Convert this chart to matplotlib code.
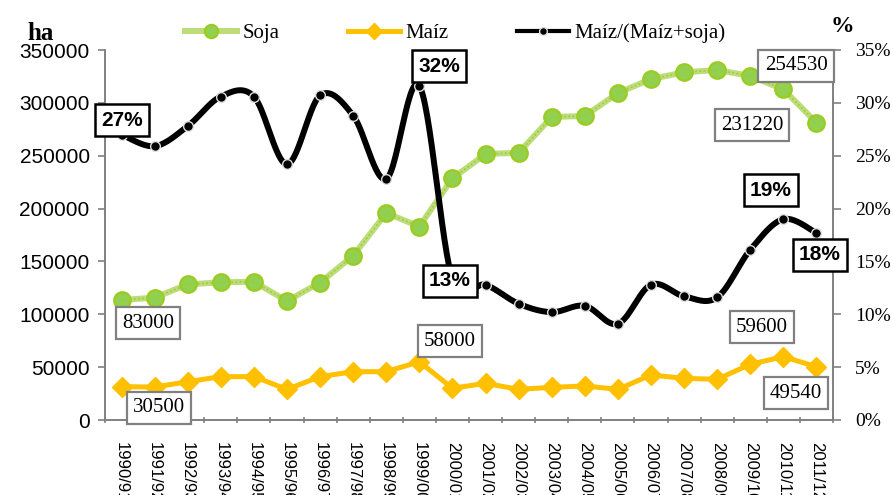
import matplotlib
matplotlib.use("Agg")
import matplotlib.pyplot as plt
import numpy as np

W, H = 893, 495

campanas = ["1990/91", "1991/92", "1992/93", "1993/94", "1994/95", "1995/96",
            "1996/97", "1997/98", "1998/99", "1999/00", "2000/01", "2001/02",
            "2002/03", "2003/04", "2004/05", "2005/06", "2006/07", "2007/08",
            "2008/09", "2009/10", "2010/11", "2011/12"]
soja = [113500, 115700, 128300, 130200, 130800, 112600, 130000, 155400,
        195800, 183000, 228600, 251600, 252800, 286600, 287600, 309300,
        322500, 328900, 331100, 325400, 312800, 281200]
maiz = [31500, 31200, 36200, 41000, 41000, 29000, 41000, 45700, 45700,
        55100, 30000, 34700, 29000, 30900, 32200, 29000, 42600, 39400,
        38500, 52700, 59900, 50400]
ratio = [27.0, 25.9, 27.8, 30.6, 30.6, 24.2, 30.7, 28.8, 22.8, 31.6, 13.3,
         12.8, 11.0, 10.2, 10.8, 9.1, 12.8, 11.7, 11.6, 16.1, 19.0, 17.7]

# etiquetas (texto, x px, y px)
etiquetas_ha = [("83000", 148, 323), ("30500", 159, 408), ("58000", 450, 341),
                ("254530", 796, 66), ("231220", 752, 125), ("59600", 762, 327),
                ("49540", 796, 393)]
etiquetas_pct = [("27%", 122, 120), ("32%", 439, 66), ("13%", 450, 281),
                 ("19%", 771, 190), ("18%", 820, 255)]


def suavizar(x, y, sy, n=30):
    # curva suavizada tipo Excel (Catmull-Rom en escala de pantalla)
    p = np.column_stack([x, np.asarray(y) * sy])
    p = np.vstack([p[0], p, p[-1]])
    out = []
    t = np.linspace(0, 1, n)[:, None]
    for i in range(1, len(p) - 2):
        p0, p1, p2, p3 = p[i - 1], p[i], p[i + 1], p[i + 2]
        c1 = p1 + (p2 - p0) / 6
        c2 = p2 - (p3 - p1) / 6
        seg = ((1 - t) ** 3) * p1 + 3 * ((1 - t) ** 2) * t * c1 \
            + 3 * (1 - t) * t ** 2 * c2 + t ** 3 * p2
        out.append(seg)
    out = np.vstack(out)
    return out[:, 0], out[:, 1] / sy


serif = ["Liberation Serif", "DejaVu Serif"]
sans = ["Liberation Sans", "DejaVu Sans"]

fig = plt.figure(figsize=(W / 100, H / 100), dpi=100)
ax = fig.add_axes([105 / W, 1 - 420 / H, 728 / W, 370 / H])
ax2 = ax.twinx()

x = np.arange(len(campanas))

l1, = ax.plot(x, soja, color="#BCDD7A", lw=4.3, marker="o", ms=12,
              mfc="#92D050", mec="#9CCB1E", mew=1.5, zorder=3, label="Soja")
ax.plot(x, soja, color="#9CCB3B", lw=1.2, ls=(0, (1, 1.5)), zorder=3)
l2, = ax.plot(x, maiz, color="#FFC000", lw=3.6, marker="D", ms=10,
              mfc="#FFC000", mec="#FFC000", zorder=3, label="Maíz")

xs, ys = suavizar(x, ratio, 10.57 / 33.09)
ax2.plot(xs, ys, color="black", lw=4.3, solid_capstyle="round", zorder=3)
ax2.plot(x, ratio, ls="none", marker="o", ms=7, mfc="black", mec="#DDDDDD",
         mew=1, zorder=4)
l3, = ax2.plot([], [], color="black", lw=3, marker="o", ms=7, mfc="black",
               mec="#DDDDDD", label="Maíz/(Maíz+soja)")

ax.set_xlim(-0.5, len(campanas) - 0.5)
ax.set_ylim(0, 350000)
ax2.set_ylim(0, 35)

ax.set_yticks(np.arange(0, 350001, 50000))
ax.set_yticklabels([str(v) for v in range(0, 350001, 50000)],
                   family=sans, fontsize=15)
ax2.set_yticks(np.arange(0, 36, 5))
ax2.set_yticklabels([f"{v}%" for v in range(0, 36, 5)], family=serif,
                    fontsize=14)

ax.set_xticks(np.arange(-0.5, len(campanas), 1))
ax.set_xticklabels([])
ax.set_xticks(x, minor=True)
ax.set_xticklabels(campanas, minor=True, rotation=-90, family=sans,
                   fontsize=12, va="top", ha="center")
ax.tick_params(axis="x", which="minor", length=0, pad=16)
ax.tick_params(axis="x", which="major", length=5, color="#808080",
               width=1.2, direction="inout")
ax.tick_params(axis="y", length=5, color="#808080", width=1.2, pad=6)
ax2.tick_params(axis="y", length=6, color="#808080", width=1.2, pad=10)

for a in (ax, ax2):
    a.spines["top"].set_visible(False)
    for s in ("left", "right", "bottom"):
        a.spines[s].set_color("#808080")
        a.spines[s].set_linewidth(1.2)

for txt, px, py in etiquetas_ha:
    fig.text(px / W, 1 - py / H, txt, family=serif, fontsize=15,
             ha="center", va="center", zorder=10,
             bbox=dict(boxstyle="square,pad=0.3", fc="white",
                       ec="#808080", lw=1.6))
for txt, px, py in etiquetas_pct:
    fig.text(px / W, 1 - py / H, txt, family=sans, fontsize=15,
             fontweight="bold", ha="center", va="center", zorder=10,
             bbox=dict(boxstyle="square,pad=0.3", fc="white",
                       ec="black", lw=1.8))

fig.text(41 / W, 1 - 33 / H, "ha", family=serif, fontsize=18,
         fontweight="bold", ha="center", va="center")
fig.text(842 / W, 1 - 27 / H, "%", family=serif, fontsize=17,
         fontweight="bold", ha="center", va="center")

fig.legend(handles=[l1, l2, l3], loc="center left",
           bbox_to_anchor=(185 / W, 1 - 33 / H), ncol=3, frameon=False,
           prop=dict(family=serif, size=15), handlelength=2.5,
           handletextpad=0.25, columnspacing=3.3, borderpad=0,
           borderaxespad=0, markerscale=0.8)

fig.savefig("out.png", dpi=100)
